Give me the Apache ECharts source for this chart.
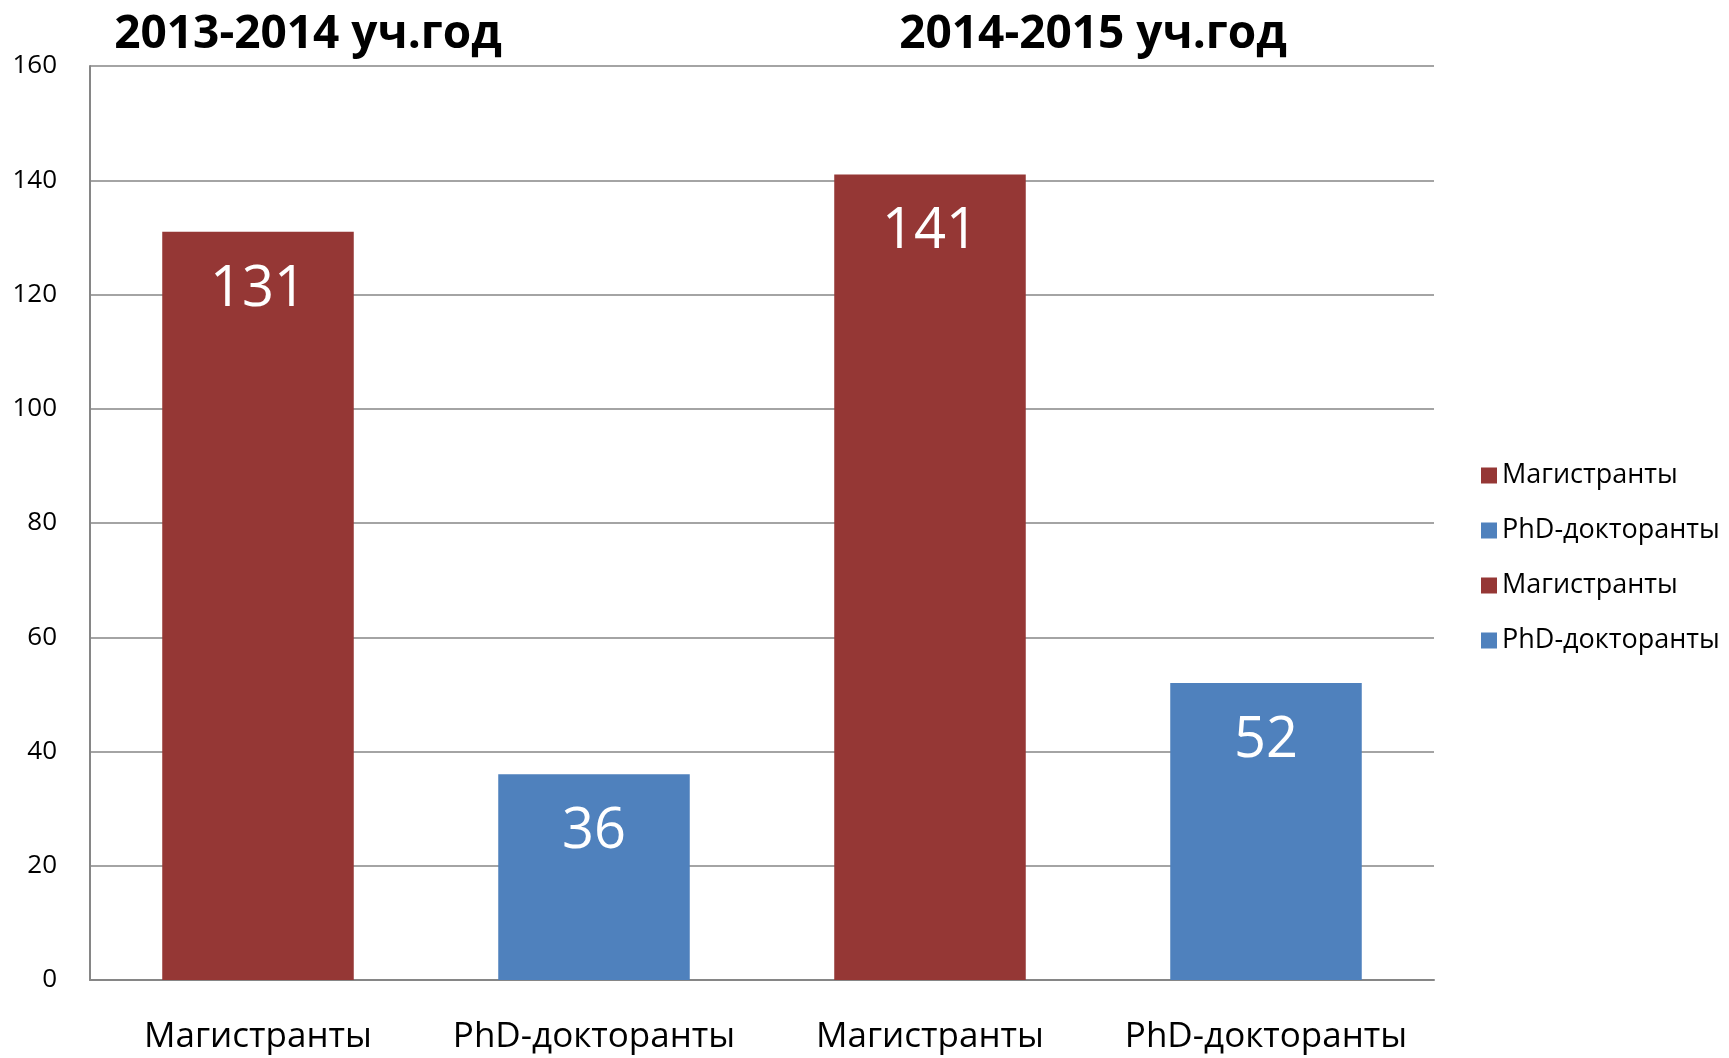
<!DOCTYPE html>
<html><head><meta charset="utf-8">
<script src="https://cdn.jsdelivr.net/npm/echarts@6/dist/echarts.min.js"></script>
<style>html,body{margin:0;padding:0;background:#fff}#c{width:1729px;height:1058px}</style>
</head><body><div id="c"></div>
<script>
const categories = ["Магистранты", "PhD-докторанты", "Магистранты", "PhD-докторанты"];
const masters = [131, "-", 141, "-"];
const phd = ["-", 36, "-", 52];
const yearTitles = ["2013-2014 уч.год", "2014-2015 уч.год"];
const seriesNames = ["Магистранты", "PhD-докторанты"];
const yTicks = [0, 20, 40, 60, 80, 100, 120, 140, 160];

const F = "'Open Sans', 'Noto Sans', sans-serif";
const chart = echarts.init(document.getElementById('c'), null, {renderer: 'canvas'});
const labelStyle = {show: true, position: 'insideTop', distance: 30, color: '#fff', fontSize: 56, fontFamily: F};
chart.setOption({
  animation: false,
  backgroundColor: '#fff',
  grid: {left: 90, right: 295, top: 66, bottom: 78},
  graphic: [
    {type: 'text', x: 308, y: 35, style: {text: yearTitles[0], fontSize: 46, fontWeight: 'bold', fontFamily: F, fill: '#000', align: 'center', verticalAlign: 'middle'}},
    {type: 'text', x: 1093, y: 35, style: {text: yearTitles[1], fontSize: 46, fontWeight: 'bold', fontFamily: F, fill: '#000', align: 'center', verticalAlign: 'middle'}}
  ],
  legend: [
    {orient: 'vertical', left: 1476, top: 457, itemWidth: 16, itemHeight: 16, itemGap: 28, icon: 'rect',
     data: seriesNames, textStyle: {fontSize: 27, fontFamily: F, color: '#000', lineHeight: 27}},
    {orient: 'vertical', left: 1476, top: 567, itemWidth: 16, itemHeight: 16, itemGap: 28, icon: 'rect',
     data: seriesNames, textStyle: {fontSize: 27, fontFamily: F, color: '#000', lineHeight: 27}}
  ],
  xAxis: {
    type: 'category', data: categories.map((c, i) => String(i)),
    axisLine: {lineStyle: {color: '#868686', width: 2}},
    axisTick: {show: false},
    axisLabel: {interval: 0, margin: 40, fontSize: 35, fontFamily: F, color: '#000', formatter: v => categories[+v]}
  },
  yAxis: {
    type: 'value', min: yTicks[0], max: yTicks[yTicks.length - 1], interval: 20,
    axisLine: {show: true, lineStyle: {color: '#868686', width: 2}},
    axisTick: {show: false},
    splitLine: {lineStyle: {color: '#868686', width: 1.5}},
    axisLabel: {margin: 33, fontSize: 26, fontFamily: F, color: '#000'}
  },
  series: [
    {name: seriesNames[0], type: 'bar', data: masters, barWidth: '57%', barGap: '-100%',
     itemStyle: {color: '#953735'}, label: labelStyle},
    {name: seriesNames[1], type: 'bar', data: phd, barWidth: '57%', barGap: '-100%',
     itemStyle: {color: '#4F81BD'}, label: labelStyle}
  ]
});
</script></body></html>
